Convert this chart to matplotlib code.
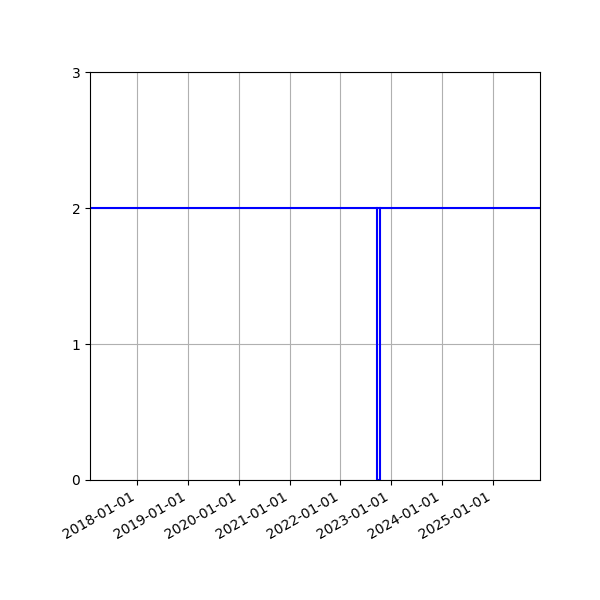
import numpy as np
import matplotlib
matplotlib.use("Agg")
from matplotlib import pyplot as plt
import matplotlib.dates as mdates

# level line across the whole period
level_dates = np.array(["2017-01-29", "2025-12-04"], dtype="datetime64[D]")
level_values = [2, 2]

# short dip to zero
dip_dates = np.array(["2022-09-19", "2022-09-19", "2022-10-11", "2022-10-11"], dtype="datetime64[D]")
dip_values = [2, 0, 0, 2]

fig, ax = plt.subplots(figsize=(6, 6), dpi=100)
ax.plot(level_dates, level_values, color="blue", linewidth=1.5)
ax.plot(dip_dates, dip_values, color="blue", linewidth=1.5)

ax.set_xlim(level_dates[0], level_dates[-1])
ax.set_ylim(0, 3)
ax.set_yticks([0, 1, 2, 3])
ax.xaxis.set_major_locator(mdates.YearLocator())
ax.xaxis.set_major_formatter(mdates.DateFormatter("%Y-%m-%d"))
ax.grid(True)
fig.autofmt_xdate()
fig.subplots_adjust(left=0.15, right=0.9, top=0.88, bottom=0.2)

fig.savefig("out.png")
